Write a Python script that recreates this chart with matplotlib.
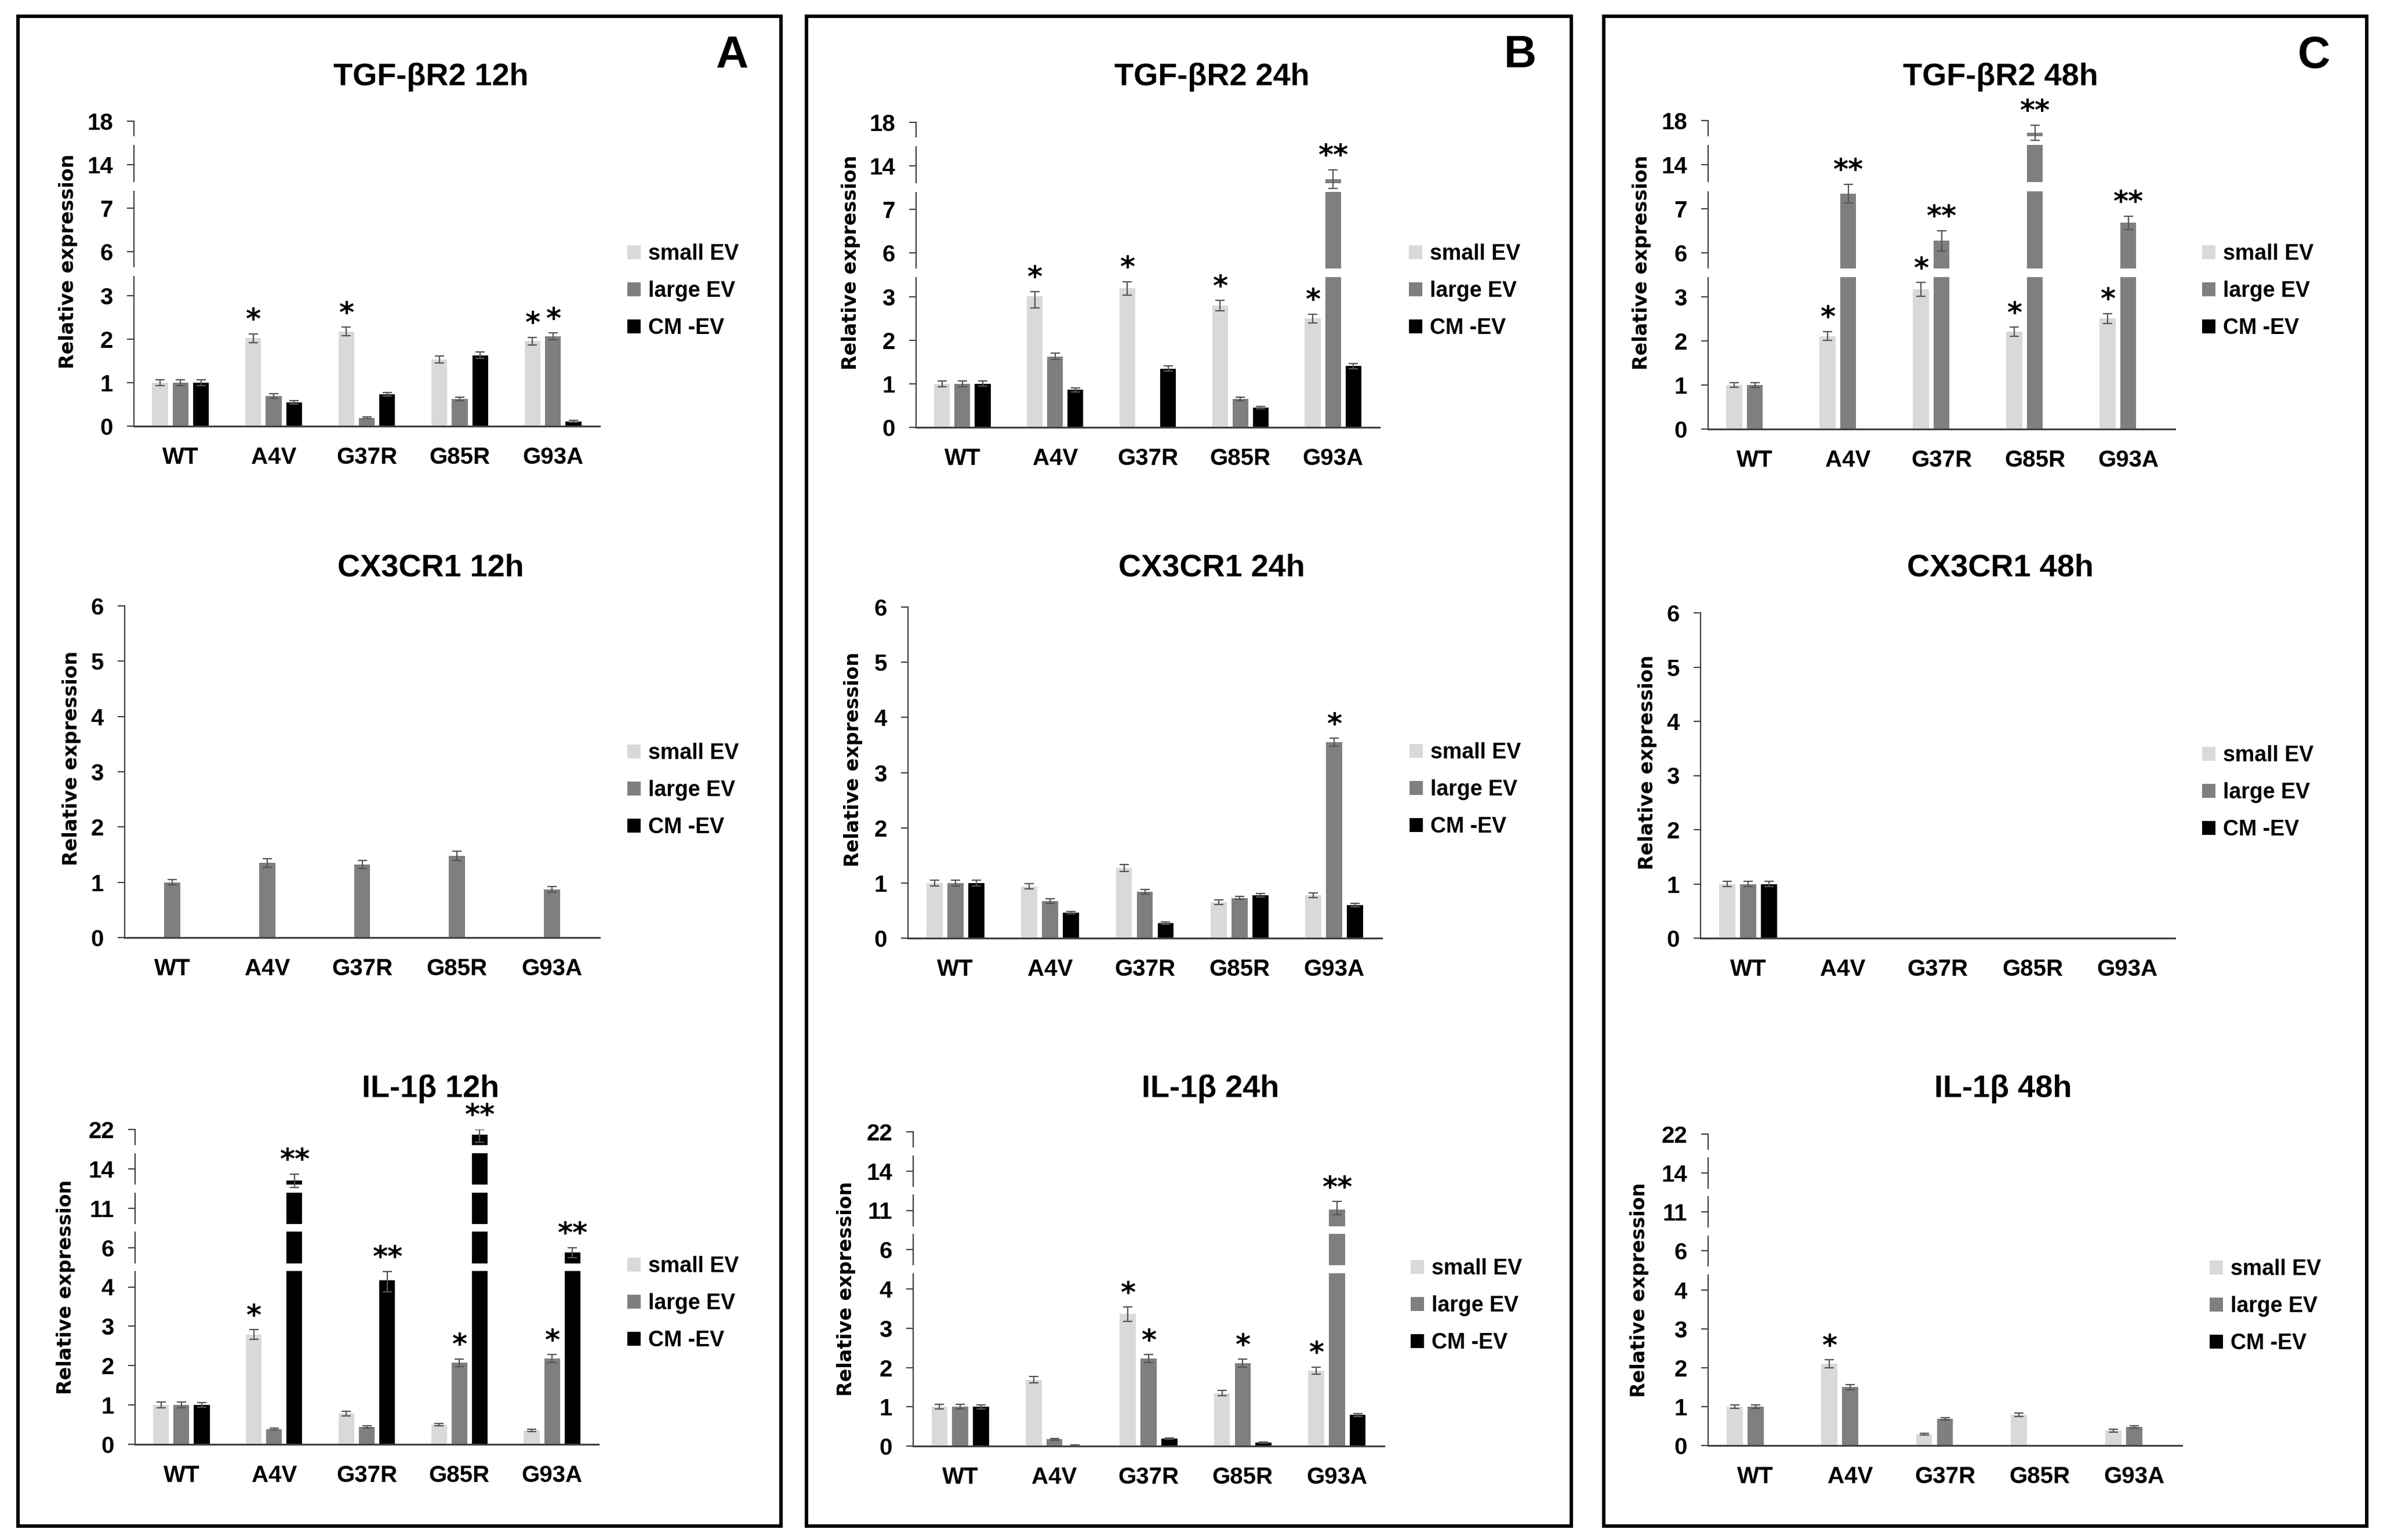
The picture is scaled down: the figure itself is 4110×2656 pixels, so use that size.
import numpy as np
import matplotlib
matplotlib.use('Agg')
import matplotlib.pyplot as plt
from matplotlib.patches import Patch, Rectangle

plt.rcParams['font.family'] = ['Liberation Sans', 'DejaVu Sans']
plt.rcParams['font.weight'] = 'bold'

nan = np.nan

groups = ['WT', 'A4V', 'G37R', 'G85R', 'G93A']
series = ['small EV', 'large EV', 'CM -EV']
colors = ['#d9d9d9', '#7f7f7f', '#000000']

tgf_ticks = [0, 1, 2, 3, 6, 7, 14, 18]
cx3_ticks = [0, 1, 2, 3, 4, 5, 6]
il_ticks = [0, 1, 2, 3, 4, 6, 11, 14, 22]

# rows: small EV, large EV, CM -EV
tgf_12h = [[1.00, 2.02, 2.17, 1.53, 1.95],
           [1.00, 0.69, 0.19, 0.62, 2.06],
           [1.00, 0.55, 0.73, 1.63, 0.11]]
tgf_12h_err = [[0.07, 0.10, 0.10, 0.08, 0.09],
               [0.07, 0.05, 0.02, 0.04, 0.08],
               [0.07, 0.04, 0.04, 0.07, 0.02]]
tgf_12h_stars = [(1, 0, '*'), (2, 0, '*'), (4, 0, '*'), (4, 1, '*')]

cx3_12h = [[nan, nan, nan, nan, nan],
           [1.00, 1.35, 1.32, 1.48, 0.87],
           [nan, nan, nan, nan, nan]]
cx3_12h_err = [[0, 0, 0, 0, 0],
               [0.05, 0.08, 0.07, 0.08, 0.05],
               [0, 0, 0, 0, 0]]
cx3_12h_stars = []

il_12h = [[1.00, 2.79, 0.78, 0.50, 0.36],
          [1.00, 0.39, 0.44, 2.07, 2.18],
          [1.00, 13.1, 4.33, 20.9, 5.74]]
il_12h_err = [[0.07, 0.12, 0.06, 0.03, 0.03],
              [0.07, 0.02, 0.03, 0.10, 0.10],
              [0.06, 0.50, 0.45, 1.50, 0.26]]
il_12h_stars = [(1, 0, '*'), (1, 2, '**'), (2, 2, '**'), (3, 1, '*'),
                (3, 2, '**'), (4, 1, '*'), (4, 2, '**')]

tgf_24h = [[1.00, 3.04, 3.57, 2.79, 2.50],
           [1.00, 1.63, nan, 0.65, 11.9],
           [1.00, 0.86, 1.35, 0.45, 1.41]]
tgf_24h_err = [[0.07, 0.30, 0.45, 0.12, 0.10],
               [0.07, 0.07, 0, 0.04, 1.50],
               [0.06, 0.05, 0.06, 0.03, 0.06]]
tgf_24h_stars = [(1, 0, '*'), (2, 0, '*'), (3, 0, '*'), (4, 0, '*'), (4, 1, '**')]

cx3_24h = [[1.00, 0.94, 1.27, 0.65, 0.78],
           [1.00, 0.67, 0.84, 0.73, 3.55],
           [1.00, 0.46, 0.27, 0.78, 0.60]]
cx3_24h_err = [[0.05, 0.05, 0.06, 0.04, 0.04],
               [0.05, 0.04, 0.04, 0.03, 0.07],
               [0.05, 0.02, 0.02, 0.03, 0.03]]
cx3_24h_stars = [(4, 1, '*')]

il_24h = [[1.00, 1.69, 3.36, 1.35, 1.92],
          [1.00, 0.17, 2.23, 2.11, 11.07],
          [1.00, 0.02, 0.19, 0.09, 0.79]]
il_24h_err = [[0.06, 0.08, 0.18, 0.07, 0.09],
              [0.06, 0.02, 0.10, 0.10, 0.60],
              [0.05, 0.01, 0.01, 0.02, 0.03]]
il_24h_stars = [(2, 0, '*'), (2, 1, '*'), (3, 1, '*'), (4, 0, '*'), (4, 1, '**')]

tgf_48h = [[1.00, 2.11, 3.50, 2.21, 2.51],
           [1.00, 9.40, 6.27, 16.9, 6.68],
           [nan, nan, nan, nan, nan]]
tgf_48h_err = [[0.05, 0.10, 0.48, 0.10, 0.11],
               [0.05, 1.50, 0.23, 0.70, 0.15],
               [0, 0, 0, 0, 0]]
tgf_48h_stars = [(1, 0, '*'), (1, 1, '**'), (2, 0, '*'), (2, 1, '**'),
                 (3, 0, '*'), (3, 1, '**'), (4, 0, '*'), (4, 1, '**')]

cx3_48h = [[1.00, nan, nan, nan, nan],
           [1.00, nan, nan, nan, nan],
           [1.00, nan, nan, nan, nan]]
cx3_48h_err = [[0.05, 0, 0, 0, 0],
               [0.05, 0, 0, 0, 0],
               [0.05, 0, 0, 0, 0]]
cx3_48h_stars = []

il_48h = [[1.00, 2.10, 0.29, 0.79, 0.38],
          [1.00, 1.50, 0.68, nan, 0.48],
          [nan, nan, nan, nan, nan]]
il_48h_err = [[0.05, 0.10, 0.02, 0.05, 0.03],
              [0.04, 0.07, 0.03, 0, 0.03],
              [0, 0, 0, 0, 0]]
il_48h_stars = [(1, 0, '*')]

W, H = 4110, 2656
fig = plt.figure(figsize=(W / 100, H / 100), dpi=100)

# axis breaks (in tick-index units)
tgf_breaks = [3.55, 5.5, 6.55]
il_breaks = [4.5, 5.5, 6.5, 7.5]


def draw_chart(box, title, title_xy, ylab_x, ylab_y, leg_xy,
               vals, errs, stars, ticks, breaks):
    x0, x1, y0, y1 = box
    ax = fig.add_axes([x0 / W, 1 - y1 / H, (x1 - x0) / W, (y1 - y0) / H])
    pos = np.arange(len(ticks), dtype=float)
    fwd = lambda v: np.interp(v, ticks, pos)
    inv = lambda p: np.interp(p, pos, ticks)
    ax.set_yscale('function', functions=(fwd, inv))
    ax.set_ylim(0, ticks[-1])
    ax.set_xlim(-0.5, 4.5)

    x = np.arange(len(groups))
    offs = [-0.22, 0.0, 0.22]
    for k in range(3):
        v = np.asarray(vals[k], dtype=float)
        e = np.asarray(errs[k], dtype=float)
        m = ~np.isnan(v)
        ax.bar(x[m] + offs[k], v[m], width=0.17, color=colors[k], zorder=2)
        ax.errorbar(x[m] + offs[k], v[m], yerr=e[m], fmt='none',
                    ecolor='#555555', elinewidth=1.6, capsize=6, capthick=1.6,
                    zorder=4)
    for g, k, s in stars:
        top = vals[k][g] + errs[k][g]
        ax.annotate(s, xy=(x[g] + offs[k], top), xytext=(0, -1),
                    textcoords='offset points', ha='center', va='bottom',
                    fontsize=36, fontweight='bold', family='DejaVu Sans',
                    zorder=5)

    for b in breaks:
        ax.axhspan(inv(b - 0.1), inv(b + 0.1), xmin=-0.03, xmax=1.0,
                   color='white', zorder=3, clip_on=False, lw=0)

    for s in ['top', 'right']:
        ax.spines[s].set_visible(False)
    ax.spines['left'].set_color('#404040')
    ax.spines['left'].set_linewidth(1.6)
    ax.spines['bottom'].set_color('#404040')
    ax.spines['bottom'].set_linewidth(2.2)
    ax.set_yticks(ticks)
    ax.set_yticklabels([str(t) for t in ticks])
    ax.set_xticks(x)
    ax.set_xticklabels(groups)
    ax.tick_params(axis='y', direction='out', length=9, width=1.5,
                   color='#404040', labelsize=29, pad=17)
    ax.tick_params(axis='x', length=0, labelsize=29, pad=25)
    ax.set_ylabel('Relative expression', family='DejaVu Sans',
                  fontweight='bold', fontsize=24, va='center')
    ax.yaxis.set_label_coords((ylab_x - x0) / (x1 - x0), ylab_y)

    fig.text(title_xy[0] / W, 1 - title_xy[1] / H, title, ha='center',
             va='center', fontsize=39, fontweight='bold')
    handles = [Patch(facecolor=c, edgecolor='none') for c in colors]
    fig.legend(handles, series, loc='center left',
               bbox_to_anchor=(leg_xy[0] / W, 1 - leg_xy[1] / H),
               frameon=False, borderpad=0, borderaxespad=0,
               handlelength=0.6, handleheight=0.6, handletextpad=0.35,
               labelspacing=0.75, fontsize=27)
    return ax


# panel A (12h)
draw_chart((231, 1034, 209, 735), 'TGF-βR2 12h', (743, 133), 118, 0.54,
           (1082, 502), tgf_12h, tgf_12h_err, tgf_12h_stars, tgf_ticks, tgf_breaks)
draw_chart((215, 1034, 1045, 1617), 'CX3CR1 12h', (743, 979), 123, 0.54,
           (1082, 1363), cx3_12h, cx3_12h_err, cx3_12h_stars, cx3_ticks, [])
draw_chart((233, 1032, 1948, 2491), 'IL-1β 12h', (743, 1878), 114, 0.5,
           (1082, 2248), il_12h, il_12h_err, il_12h_stars, il_ticks, il_breaks)

# panel B (24h)
draw_chart((1580, 2379, 211, 737), 'TGF-βR2 24h', (2090, 133), 1468, 0.54,
           (2430, 502), tgf_24h, tgf_24h_err, tgf_24h_stars, tgf_ticks, tgf_breaks)
draw_chart((1566, 2383, 1047, 1618), 'CX3CR1 24h', (2090, 979), 1472, 0.54,
           (2431, 1362), cx3_24h, cx3_24h_err, cx3_24h_stars, cx3_ticks, [])
draw_chart((1575, 2387, 1952, 2494), 'IL-1β 24h', (2088, 1878), 1459, 0.5,
           (2433, 2252), il_24h, il_24h_err, il_24h_stars, il_ticks, il_breaks)

# panel C (48h)
draw_chart((2946, 3751, 208, 740), 'TGF-βR2 48h', (3450, 133), 2832, 0.54,
           (3798, 502), tgf_48h, tgf_48h_err, tgf_48h_stars, tgf_ticks, tgf_breaks)
draw_chart((2933, 3751, 1057, 1618), 'CX3CR1 48h', (3450, 979), 2841, 0.54,
           (3798, 1367), cx3_48h, cx3_48h_err, cx3_48h_stars, cx3_ticks, [])
draw_chart((2946, 3763, 1956, 2493), 'IL-1β 48h', (3455, 1878), 2828, 0.5,
           (3811, 2253), il_48h, il_48h_err, il_48h_stars, il_ticks, il_breaks)

# panel frames and letters
for (bx0, bx1), letter, lx in [((31, 1347), 'A', 1262), ((1391, 2710), 'B', 2622),
                               ((2766, 4082), 'C', 3991)]:
    fig.patches.append(Rectangle((bx0 / W, 1 - 2632 / H), (bx1 - bx0) / W,
                                 (2632 - 28) / H, transform=fig.transFigure,
                                 fill=False, edgecolor='black', linewidth=4.3))
    fig.text(lx / W, 1 - 96 / H, letter, ha='center', va='center',
             fontsize=56, fontweight='bold')

fig.savefig('out.png', dpi=100, facecolor='white')
